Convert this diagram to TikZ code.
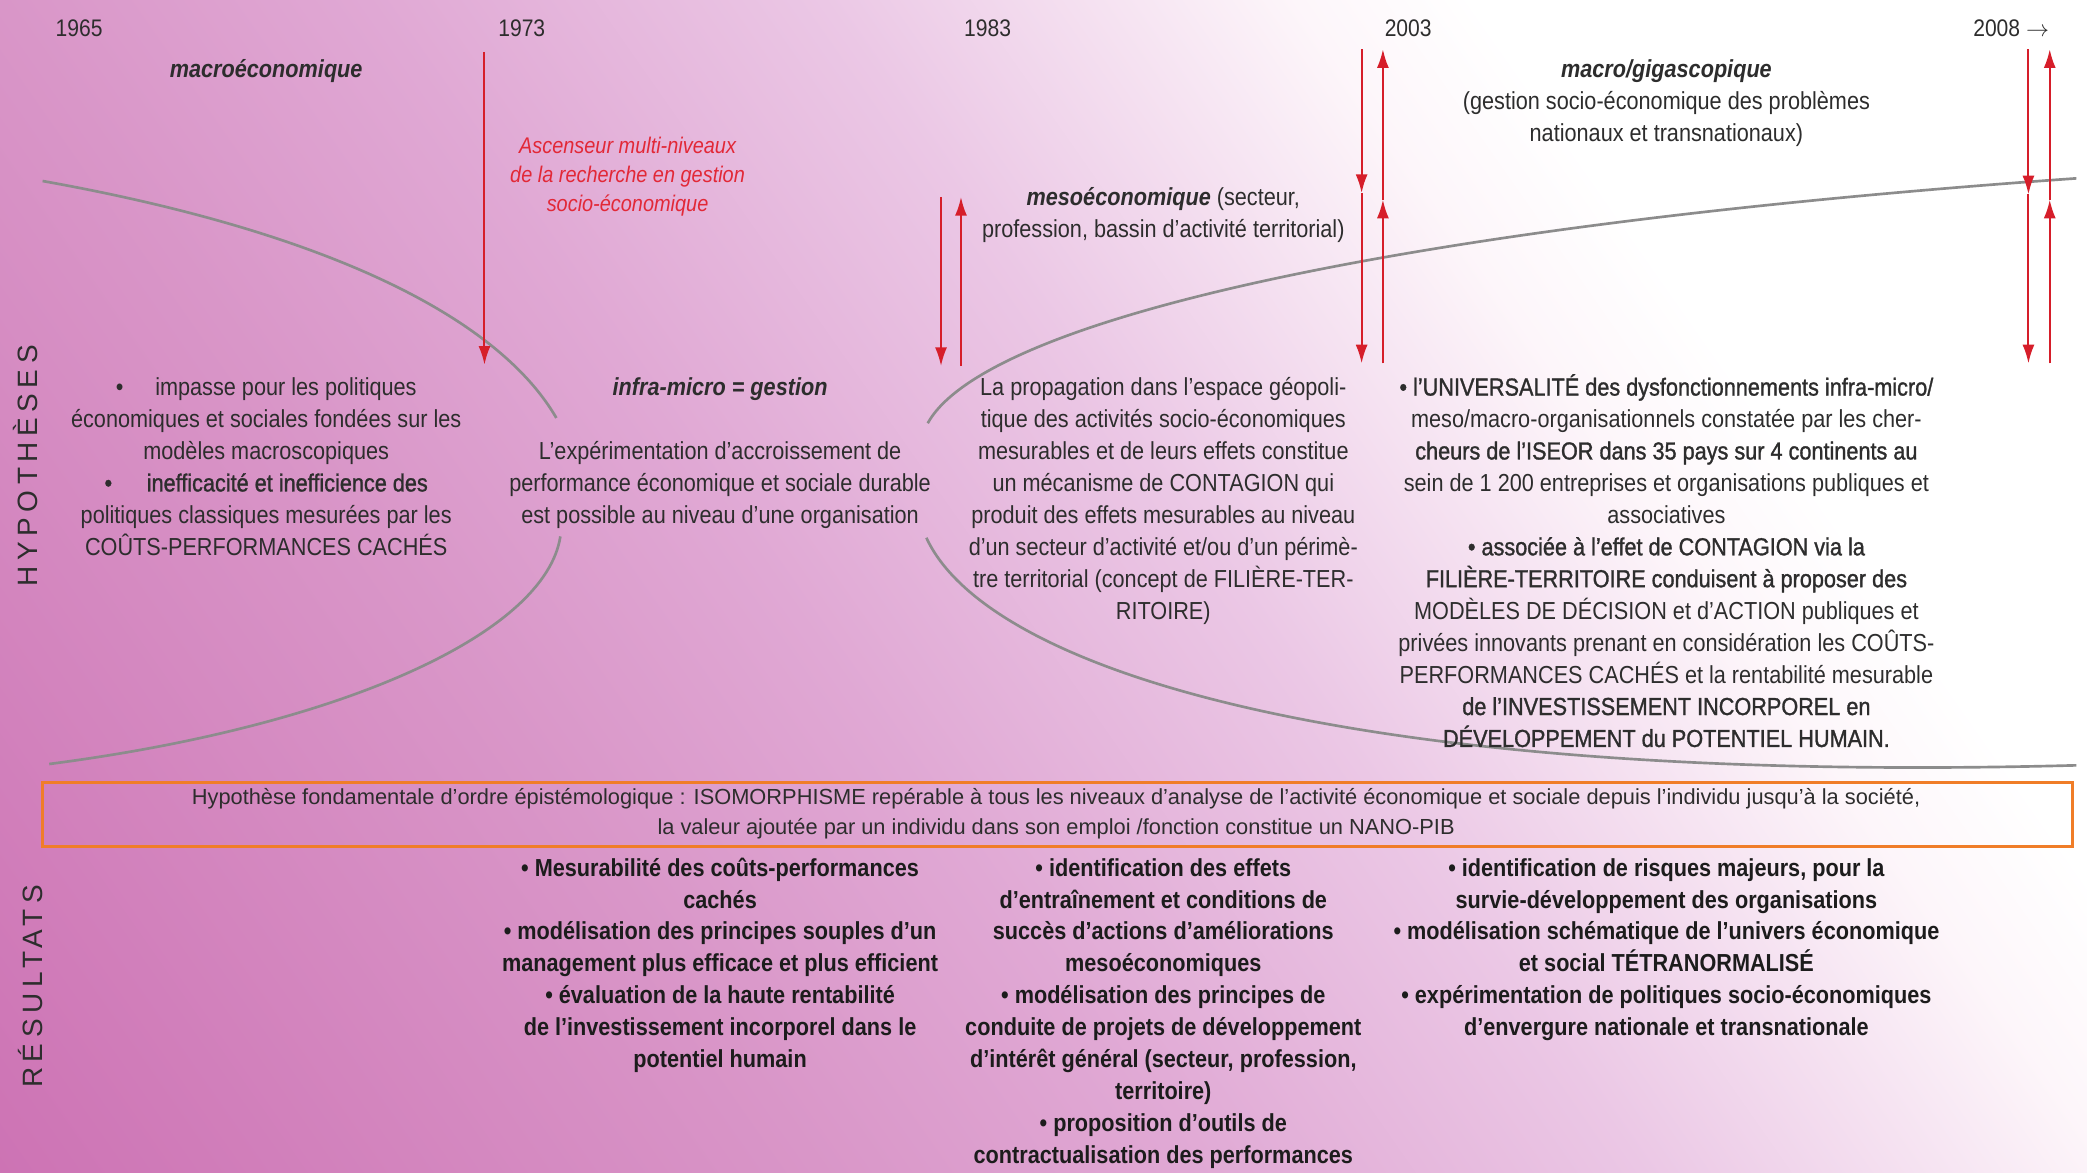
\documentclass[tikz,border=0pt]{standalone}
\usepackage{fontspec}
\setmainfont[FakeStretch=0.88]{Liberation Sans}
\newfontfamily\semib[FakeStretch=0.88,FakeBold=1.2]{Liberation Sans}
\newfontfamily\spaced[LetterSpace=20]{Liberation Sans}
\newfontfamily\plainsans{Liberation Sans}
\usetikzlibrary{arrows.meta}
\definecolor{pkA}{RGB}{205,115,180}
\definecolor{pkB}{RGB}{217,150,200}
\definecolor{pkC}{RGB}{224,168,212}
\definecolor{pkD}{RGB}{235,199,229}
\definecolor{pkE}{RGB}{246,228,242}
\definecolor{pkF}{RGB}{253,246,250}
\definecolor{arrred}{RGB}{214,30,42}
\definecolor{txtred}{RGB}{226,40,55}
\definecolor{curvegray}{RGB}{140,140,140}
\definecolor{boxorange}{RGB}{240,125,40}
\definecolor{ink}{RGB}{45,45,45}
\definecolor{inkb}{RGB}{28,28,28}
\pgfdeclarehorizontalshading{bgsh}{100bp}{color(0bp)=(pkA); color(25.4bp)=(pkA); color(39.29bp)=(pkB); color(45.48bp)=(pkC); color(53.2bp)=(pkD); color(58.2bp)=(pkE); color(61.2bp)=(pkF); color(64.2bp)=(white); color(100bp)=(white)}
\newcommand\fs{\rule{0pt}{18pt}}
\begin{document}
\begin{tikzpicture}[x=1pt,y=-1pt,
  txt/.style={font=\fontsize{18.5}{24}\selectfont, text=ink, align=center, inner sep=0pt, anchor=north},
  res/.style={txt, font=\fontsize{18.5}{24}\selectfont\bfseries, text=inkb},
  curve/.style={draw=curvegray, line width=2pt},
  redarr/.style={draw=arrred, line width=1.5pt, -{Latex[length=14pt,width=9pt]}},
  sidelabel/.style={font=\spaced\fontsize{21}{24}\selectfont, text=ink, rotate=90, inner sep=0pt}]
\useasboundingbox (0,0) rectangle (1568,881);
% background
\begin{scope}
\clip (0,0) rectangle (1568,881);
\fill[pkA] (0,0) rectangle (1568,881);
\begin{scope}[transform canvas={rotate around={35:(0,0)}}]
\shade[shading=bgsh] (-520,-2500) rectangle (1300,2500);
\end{scope}
\end{scope}

% curves
\coordinate (ulA) at (32,136);
\coordinate (ulB) at (418,314);
\coordinate (llA) at (421,403);
\coordinate (llB) at (37,574);
\coordinate (urA) at (697,318);
\coordinate (urB) at (1560,134);
\coordinate (lrA) at (696,404);
\coordinate (lrB) at (1560,575);
\draw[curve] (ulA) .. controls (250,175) and (375,240) .. (ulB);
\draw[curve] (llA) .. controls (410,475) and (260,545) .. (llB);
\draw[curve] (urA) .. controls (740,240) and (1050,170) .. (urB);
\draw[curve] (lrA) .. controls (740,500) and (1000,590) .. (lrB);

% red arrows
\coordinate (r73t) at (364,39);
\coordinate (r73b) at (364,274);
\draw[redarr] (r73t) -- (r73b);
\coordinate (r83dt) at (707,148);
\coordinate (r83db) at (707,275);
\coordinate (r83ub) at (722,275);
\coordinate (r83ut) at (722,148);
\draw[redarr] (r83dt) -- (r83db);
\draw[redarr] (r83ub) -- (r83ut);
\coordinate (r03dt) at (1023,37);
\coordinate (r03dm) at (1023,145);
\coordinate (r03db) at (1023,273);
\coordinate (r03ub) at (1039,273);
\coordinate (r03um) at (1039,150);
\coordinate (r03ut) at (1039,37);
\draw[redarr] (r03dt) -- (r03dm);
\draw[redarr] (r03dm) -- (r03db);
\draw[redarr] (r03ub) -- (r03um);
\draw[redarr] (r03um) -- (r03ut);
\coordinate (r08dt) at (1524,37);
\coordinate (r08dm) at (1524,146);
\coordinate (r08db) at (1524,273);
\coordinate (r08ub) at (1540,273);
\coordinate (r08um) at (1540,150);
\coordinate (r08ut) at (1540,37);
\draw[redarr] (r08dt) -- (r08dm);
\draw[redarr] (r08dm) -- (r08db);
\draw[redarr] (r08ub) -- (r08um);
\draw[redarr] (r08um) -- (r08ut);

% years
\node[txt, font=\fontsize{18}{24}\selectfont] (y1965) at (59.5,9) {\fs 1965};
\node[txt, font=\fontsize{18}{24}\selectfont] (y1973) at (392,9) {\fs 1973};
\node[txt, font=\fontsize{18}{24}\selectfont] (y1983) at (742,9) {\fs 1983};
\node[txt, font=\fontsize{18}{24}\selectfont] (y2003) at (1058,9) {\fs 2003};
\node[txt, font=\fontsize{18}{24}\selectfont] (y2008) at (1511,9) {\fs 2008 $\rightarrow$};

% level titles
\node[txt] (macroeco) at (200,40) {\fs\textbf{\textit{macroéconomique}}};
\node[txt, font=\fontsize{17}{22}\selectfont\itshape, text=txtred] (asc) at (471.5,97) {\fs Ascenseur multi-niveaux\\ de la recherche en gestion\\ socio-économique};
\node[txt] (meso) at (874,136) {\fs\textbf{\textit{mesoéconomique}} (secteur,\\ profession, bassin d’activité territorial)};
\node[txt] (macrogiga) at (1252,40) {\fs\textbf{\textit{macro/gigascopique}}\\ (gestion socio-économique des problèmes\\ nationaux et transnationaux)};
\node[txt] (infra) at (541,279) {\fs\textbf{\textit{infra-micro = gestion}}};

% hypotheses
\node[txt] (hyp1) at (200,279) {\fs•\hspace{24pt}impasse pour les politiques\\ économiques et sociales fondées sur les\\ modèles macroscopiques\\ {\semib •\hspace{26pt}inefficacité et inefficience des}\\ politiques classiques mesurées par les\\ COÛTS-PERFORMANCES CACHÉS};
\node[txt] (hyp2) at (541,327) {\fs L’expérimentation d’accroissement de\\ performance économique et sociale durable\\ est possible au niveau d’une organisation};
\node[txt] (hyp3) at (874,279) {\fs La propagation dans l’espace géopoli-\\ tique des activités socio-économiques\\ mesurables et de leurs effets constitue\\ un mécanisme de CONTAGION qui\\ produit des effets mesurables au niveau\\ d’un secteur d’activité et/ou d’un périmè-\\ tre territorial (concept de FILIÈRE-TER-\\ RITOIRE)};
\node[txt] (hyp4) at (1252,279) {\fs{\semib • l’UNIVERSALITÉ des dysfonctionnements infra-micro/}\\ meso/macro-organisationnels constatée par les cher-\\ {\semib cheurs de l’ISEOR dans 35 pays sur 4 continents au}\\ sein de 1 200 entreprises et organisations publiques et\\ associatives\\ {\semib • associée à l’effet de CONTAGION via la}\\ {\semib FILIÈRE-TERRITOIRE conduisent à proposer des}\\ MODÈLES DE DÉCISION et d’ACTION publiques et\\ privées innovants prenant en considération les COÛTS-\\ PERFORMANCES CACHÉS et la rentabilité mesurable\\ {\semib de l’INVESTISSEMENT INCORPOREL en}\\ {\semib DÉVELOPPEMENT du POTENTIEL HUMAIN.}};

% fundamental hypothesis box
\node[draw=boxorange, line width=1.8pt, minimum width=1525pt, minimum height=48pt, inner sep=0pt] (isobox) at (794.5,612) {};
\node[txt, font=\plainsans\fontsize{16.4}{23}\selectfont] (isotxt) at (793.5,586) {\fs Hypothèse fondamentale d’ordre épistémologique : ISOMORPHISME repérable à tous les niveaux d’analyse de l’activité économique et sociale depuis l’individu jusqu’à la société,\\ la valeur ajoutée par un individu dans son emploi /fonction constitue un NANO-PIB};

% results
\node[res] (resA) at (541,640) {\fs• Mesurabilité des coûts-performances\\ cachés\\ • modélisation des principes souples d’un\\ management plus efficace et plus efficient\\ • évaluation de la haute rentabilité\\ de l’investissement incorporel dans le\\ potentiel humain};
\node[res] (resB) at (874,640) {\fs• identification des effets\\ d’entraînement et conditions de\\ succès d’actions d’améliorations\\ mesoéconomiques\\ • modélisation des principes de\\ conduite de projets de développement\\ d’intérêt général (secteur, profession,\\ territoire)\\ • proposition d’outils de\\ contractualisation des performances};
\node[res] (resC) at (1252,640) {\fs• identification de risques majeurs, pour la\\ survie-développement des organisations\\ • modélisation schématique de l’univers économique\\ et social TÉTRANORMALISÉ\\ • expérimentation de politiques socio-économiques\\ d’envergure nationale et transnationale};

% side labels
\node[sidelabel] (lblhyp) at (19,350) {HYPOTHÈSES};
\node[sidelabel] (lblres) at (23,741) {RÉSULTATS};
\end{tikzpicture}
\end{document}
